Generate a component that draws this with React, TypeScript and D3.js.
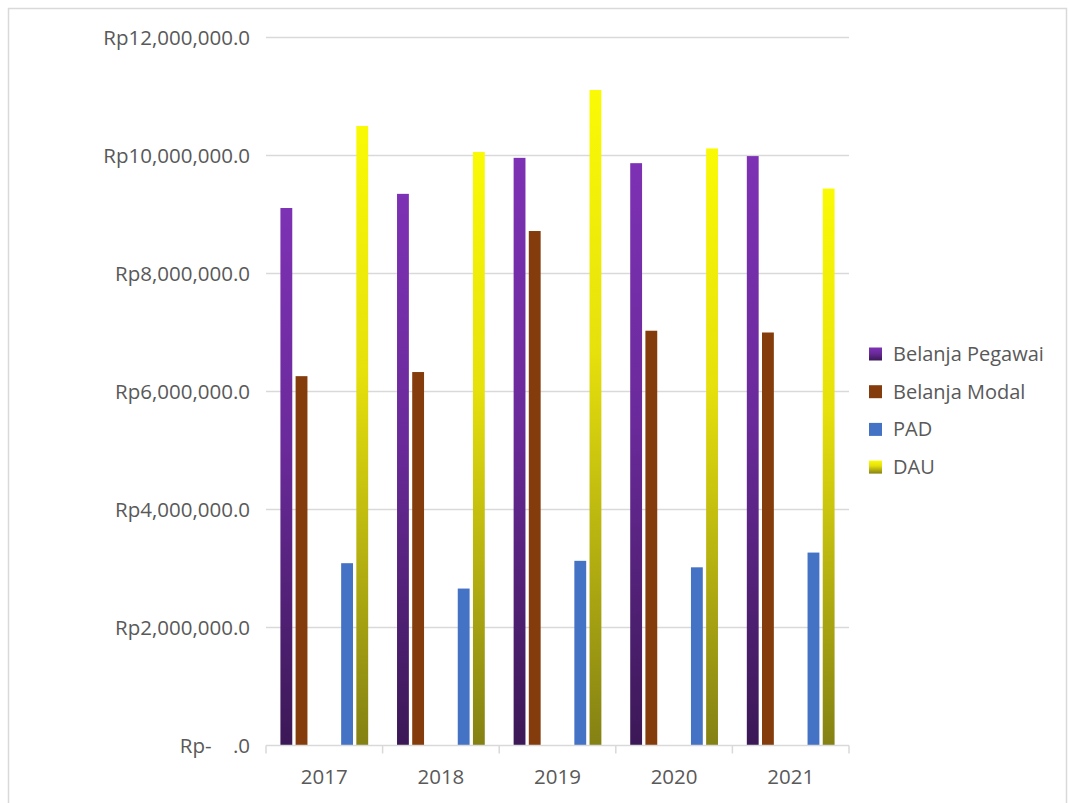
import React from "react";
import * as d3 from "d3";

const years = ["2017", "2018", "2019", "2020", "2021"];
const belanjaPegawai = [9110000, 9350000, 9960000, 9870000, 9990000];
const belanjaModal = [6260000, 6330000, 8720000, 7030000, 7000000];
const pad = [3090000, 2660000, 3130000, 3020000, 3270000];
const dau = [10500000, 10060000, 11110000, 10120000, 9440000];
const seriesNames = ["Belanja Pegawai", "Belanja Modal", "PAD", "DAU"];
// slot order used by the original chart (two empty slots between Modal and PAD)
const slotNames = ["Belanja Pegawai", "Belanja Modal", "_e1", "_e2", "PAD", "DAU"];
const yTicks = [0, 2000000, 4000000, 6000000, 8000000, 10000000, 12000000];
const yTickLabels = ["Rp-    .0", "Rp2,000,000.0", "Rp4,000,000.0", "Rp6,000,000.0", "Rp8,000,000.0", "Rp10,000,000.0", "Rp12,000,000.0"];

const seriesValues: Record<string, number[]> = {
  "Belanja Pegawai": belanjaPegawai,
  "Belanja Modal": belanjaModal,
  PAD: pad,
  DAU: dau,
};
const fills: Record<string, string> = {
  "Belanja Pegawai": "url(#gPurple)",
  "Belanja Modal": "#843C0C",
  PAD: "#4472C4",
  DAU: "url(#gYellow)",
};

export default function App() {
  const W = 1069, H = 803;
  const plotL = 266, plotR = 849, plotT = 37.5, plotB = 745.5;
  const x0 = d3.scaleBand<string>().domain(years).range([plotL, plotR]).paddingInner(0).paddingOuter(0);
  const x1 = d3.scaleBand<string>().domain(slotNames).range([0, x0.bandwidth()]).paddingInner(0.22).paddingOuter(0.95);
  const y = d3.scaleLinear().domain([0, 12000000]).range([plotB, plotT]);
  const textColor = "#595959";
  const font = "'Open Sans', 'Noto Sans', sans-serif";
  const boundaries = [...years.map((yr) => x0(yr)!), plotR];

  return (
    <svg width={W} height={H} style={{ position: "fixed", left: 0, top: 0, background: "#fff" }}>
      <defs>
        <linearGradient id="gPurple" x1="0" y1="0" x2="0" y2="1">
          <stop offset="0" stopColor="#7D31B4" />
          <stop offset="0.45" stopColor="#6A2A9A" />
          <stop offset="1" stopColor="#3B1856" />
        </linearGradient>
        <linearGradient id="gYellow" x1="0" y1="0" x2="0" y2="1">
          <stop offset="0" stopColor="#FAFA05" />
          <stop offset="0.4" stopColor="#E6E00C" />
          <stop offset="1" stopColor="#848114" />
        </linearGradient>
      </defs>
      <rect x={8.5} y={8.5} width={1058} height={900} fill="#fff" stroke="#D9D9D9" strokeWidth={1.5} />
      {yTicks.map((t, i) => (
        <g key={t}>
          {t > 0 && <line x1={plotL} x2={plotR} y1={y(t)} y2={y(t)} stroke="#D9D9D9" strokeWidth={1.5} />}
          <text x={250} y={y(t)} dy="0.35em" textAnchor="end" fill={textColor} fontFamily={font} fontSize={20.5} style={{ whiteSpace: "pre" }}>
            {yTickLabels[i]}
          </text>
        </g>
      ))}
      {years.map((yr, i) => (
        <g key={yr} transform={`translate(${x0(yr)},0)`}>
          {seriesNames.map((s) => {
            const v = seriesValues[s][i];
            return (
              <rect key={s} x={x1(s)} y={y(v)} width={x1.bandwidth()} height={plotB - y(v)} fill={fills[s]} />
            );
          })}
        </g>
      ))}
      <line x1={plotL} x2={plotR} y1={plotB} y2={plotB} stroke="#D9D9D9" strokeWidth={1.5} />
      {boundaries.map((bx, i) => (
        <line key={i} x1={bx} x2={bx} y1={plotB} y2={plotB + 8} stroke="#D9D9D9" strokeWidth={1.5} />
      ))}
      {years.map((yr) => (
        <text key={yr} x={x0(yr)! + x0.bandwidth() / 2} y={784} textAnchor="middle" fill={textColor} fontFamily={font} fontSize={20.5}>
          {yr}
        </text>
      ))}
      {seriesNames.map((s, i) => (
        <g key={s} transform={`translate(869,${347.5 + i * 37.7})`}>
          <rect x={0} y={0} width={13} height={13} fill={fills[s]} />
          <text x={24} y={6.5} dy="0.35em" fill={textColor} fontFamily={font} fontSize={20}>
            {s}
          </text>
        </g>
      ))}
    </svg>
  );
}
